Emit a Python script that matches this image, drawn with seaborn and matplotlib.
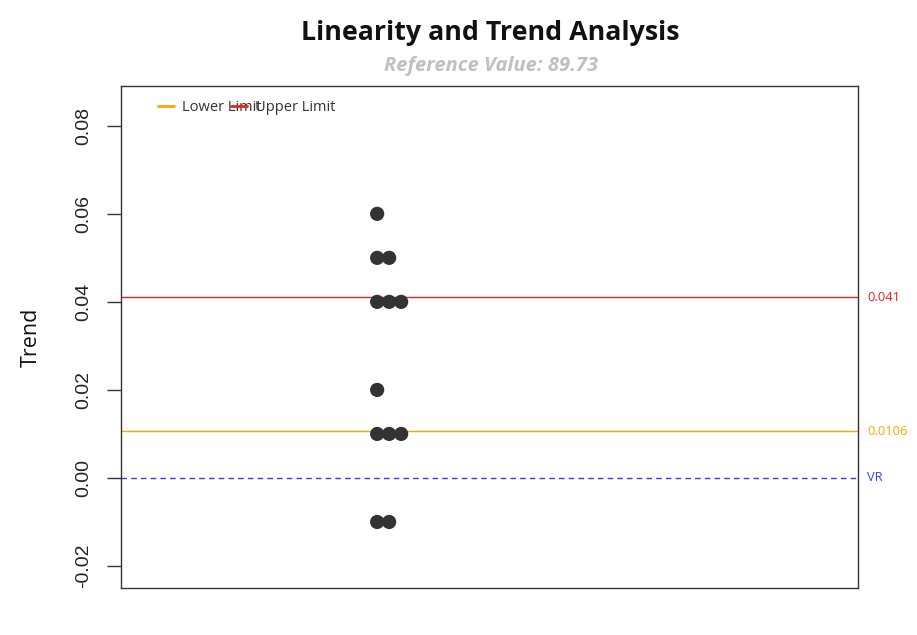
import os
import matplotlib
matplotlib.use("Agg")
import matplotlib.pyplot as plt
import matplotlib.transforms as mtransforms
from matplotlib.font_manager import FontProperties
import seaborn as sns
import pandas as pd

# trend values
trend_values = [0.06, 0.05, 0.05, 0.04, 0.04, 0.04, 0.02, 0.01, 0.01, 0.01, -0.01, -0.01]
lower_limit = 0.0106
upper_limit = 0.041
vr_value = 0.0
reference_value = 89.73
y_ticks = [-0.02, 0.00, 0.02, 0.04, 0.06, 0.08]

sns.set_style("white")
plt.rcParams['font.family'] = ['Liberation Sans', 'DejaVu Sans']
text_font = ["Open Sans", "DejaVu Sans"]


def open_sans(fname, size, **fallback):
    # pick the regular-width bold files directly (the condensed ones share the name)
    path = os.path.join("/usr/share/fonts/truetype/open-sans", fname)
    if os.path.exists(path):
        return FontProperties(fname=path, size=size)
    return FontProperties(family=text_font, size=size, **fallback)


# stack equal values side by side (stripchart "stack" style)
df = pd.DataFrame({"trend": trend_values})
df["slot"] = df.groupby("trend").cumcount()
df["x"] = 1.0 + df["slot"] * 0.05

fig, ax = plt.subplots(figsize=(9.17, 6.35), dpi=100)
fig.subplots_adjust(left=0.132, right=0.936, top=0.865, bottom=0.074)

ax.axhline(upper_limit, color="#e8201f", lw=1.0, zorder=1)
ax.axhline(lower_limit, color="orange", lw=1.0, zorder=1)
ax.axhline(vr_value, color="#3a3aff", lw=1.0, ls=(0, (4, 3)), zorder=1)

sns.scatterplot(data=df, x="x", y="trend", ax=ax, color="#333333",
                s=105, edgecolor="none", zorder=3, legend=False)

ax.set_xlim(-0.0667, 3.004)
ax.set_ylim(-0.025, 0.0891)
ax.set_xticks([])
ax.set_yticks(y_ticks)
ax.set_yticklabels([f"{v:.2f}" for v in y_ticks], rotation=90, va="center",
                   fontsize=14, color="#222222")
ax.tick_params(axis="y", length=10, width=1.0, color="#333333", pad=11, left=True)
for sp in ax.spines.values():
    sp.set_color("#333333")
    sp.set_linewidth(1.0)

ax.set_xlabel("")
ax.set_ylabel("Trend", fontsize=15.5, family=text_font, color="#111111",
              labelpad=24)

# labels on the right edge
trans = mtransforms.blended_transform_factory(ax.transAxes, ax.transData)
side_font = dict(fontsize=9.3, family=text_font, va="center",
                 ha="left", transform=trans)
ax.text(1.012, upper_limit, f"{upper_limit:g}", color="#e8201f", **side_font)
ax.text(1.012, lower_limit, f"{lower_limit:g}", color="orange", **side_font)
ax.text(1.012, vr_value, "VR", color="#3a3aff", **side_font)

# legend (overlapping, as in the original)
h_low, = ax.plot([], [], color="orange", lw=2)
h_up, = ax.plot([], [], color="#e8201f", lw=2)
leg = ax.legend([h_low, h_up], ["Lower Limit", "Upper Limit"], ncol=2,
                loc="upper left", bbox_to_anchor=(0.032, 0.997), frameon=False,
                prop={"family": text_font, "size": 10.5},
                handlelength=1.1, handletextpad=0.55, columnspacing=-2.05)
for t in leg.get_texts():
    t.set_color("#333333")

fig.text(0.535, 0.948, "Linearity and Trend Analysis", ha="center", va="center",
         fontproperties=open_sans("OpenSans-Bold.ttf", 19.3, weight="bold"),
         color="#111111")
fig.text(0.535, 0.896, f"Reference Value: {reference_value}", ha="center",
         va="center", color="#c0c0c0",
         fontproperties=open_sans("OpenSans-BoldItalic.ttf", 14.5,
                                  weight="bold", style="italic"))

fig.savefig("out.png", dpi=100)
